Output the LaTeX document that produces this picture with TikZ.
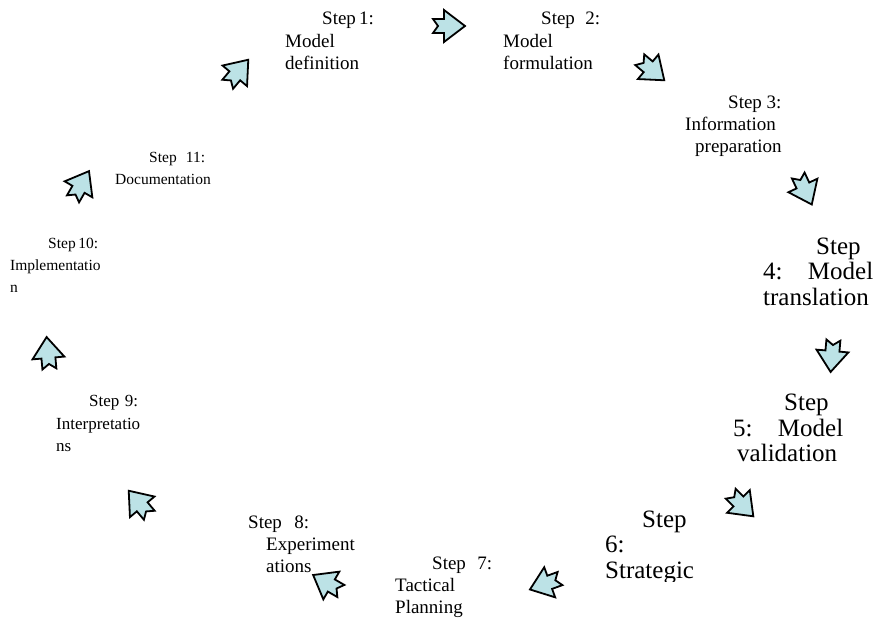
\documentclass[tikz,border=0pt]{standalone}
\usepackage{fontspec}
\setmainfont{Liberation Serif}
\definecolor{arrowfill}{RGB}{188,226,230}
\tikzset{
  blockarrow/.style={draw=black, line width=1.8pt, fill=arrowfill, line join=miter},
  lbl/.style={anchor=base west, inner sep=0pt, font=\fontsize{19}{22}\selectfont},
  lblmid/.style={lbl, font=\fontsize{17}{20}\selectfont},
  lblsmall/.style={lbl, font=\fontsize{15.5}{18}\selectfont},
  lblbig/.style={lbl, font=\fontsize{25}{27}\selectfont},
}
% x, y, angle
\newcommand{\notcharrow}[3]{%
  \draw[blockarrow, shift={(#1,#2)}, rotate=#3]
    (-16,7) -- (-5,7) -- (-5,16) -- (16,0) -- (-5,-16) -- (-5,-7) -- (-16,-7) -- (-11,0) -- cycle;
}
\begin{document}
\begin{tikzpicture}[x=1pt,y=-1pt]
  \useasboundingbox (0,0) rectangle (874,623);
  % arrows round the cycle
  \notcharrow{449}{26}{0}
  \notcharrow{652}{70}{-40}
  \notcharrow{805}{190}{-65}
  \notcharrow{832}{356}{-95}
  \notcharrow{742}{505}{-45}
  \notcharrow{545}{584}{200}
  \notcharrow{327}{583}{150}
  \notcharrow{139}{503}{130}
  \notcharrow{48}{353}{95}
  \notcharrow{81}{185}{60}
  \notcharrow{238}{72}{50}
  % step 1
  \node[lbl] (s1a) at (322,25) {\makebox[44pt][s]{Step 1:}};
  \node[lbl] (s1b) at (285,48) {Model};
  \node[lbl] (s1c) at (285,70) {definition};
  % step 2
  \node[lbl] (s2a) at (541,25) {\makebox[59pt][s]{Step 2:}};
  \node[lbl] (s2b) at (503,48) {Model};
  \node[lbl] (s2c) at (503,70) {formulation};
  % step 3
  \node[lbl] (s3a) at (728,108) {Step 3:};
  \node[lbl] (s3b) at (685,130) {Information};
  \node[lbl] (s3c) at (695,152) {preparation};
  % step 4
  \node[lblbig] (s4a) at (816,254) {Step};
  \node[lblbig] (s4b) at (763,279) {\makebox[110pt][s]{4: Model}};
  \node[lblbig] (s4c) at (763,305) {translation};
  % step 5
  \node[lblbig] (s5a) at (784,410) {Step};
  \node[lblbig] (s5b) at (733,436) {\makebox[110pt][s]{5: Model}};
  \node[lblbig] (s5c) at (737,461) {validation};
  % step 6
  \node[lblbig] (s6a) at (642,527) {Step};
  \node[lblbig] (s6b) at (605,552) {6:};
  \begin{scope}
    \clip (600,560) rectangle (700,581);
    \node[lblbig] (s6c) at (605,578) {Strategic};
  \end{scope}
  % step 7
  \node[lbl] (s7a) at (432,569) {\makebox[60pt][s]{Step 7:}};
  \node[lbl] (s7b) at (395,591) {Tactical};
  \node[lbl] (s7c) at (395,613) {Planning};
  % step 8
  \node[lbl] (s8a) at (248,528) {\makebox[61pt][s]{Step 8:}};
  \node[lbl] (s8b) at (266,550) {Experiment};
  \node[lbl] (s8c) at (266,572) {ations};
  % step 9
  \node[lblmid] (s9a) at (89,406) {\makebox[49pt][s]{Step 9:}};
  \node[lblmid] (s9b) at (56,429) {Interpretatio};
  \node[lblmid] (s9c) at (56,451) {ns};
  % step 10
  \node[lblsmall] (s10a) at (48,248) {\makebox[44pt][s]{Step 10:}};
  \node[lblsmall] (s10b) at (10,270) {Implementatio};
  \node[lblsmall] (s10c) at (10,292) {n};
  % step 11
  \node[lblsmall] (s11a) at (149,162) {\makebox[56pt][s]{Step 11:}};
  \node[lblsmall] (s11b) at (115,184) {Documentation};
\end{tikzpicture}
\end{document}
